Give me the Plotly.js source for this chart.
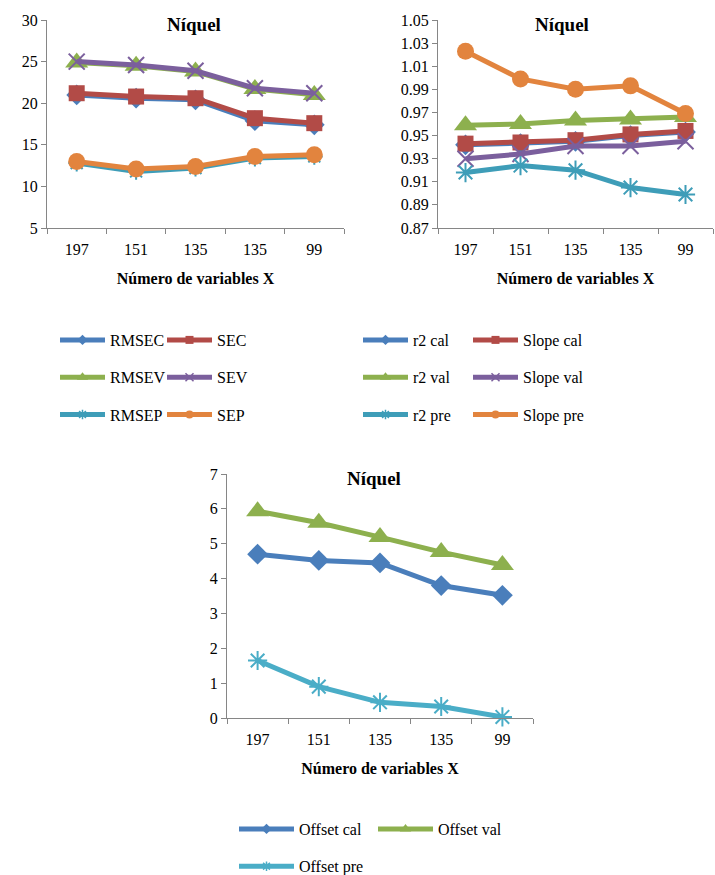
<!DOCTYPE html>
<html>
<head>
<meta charset="utf-8">
<script src="https://cdn.plot.ly/plotly-3.0.1.min.js"></script>
<style>
body{margin:0;padding:0;background:#fff}
#chart text, #chart tspan { font-family: "Liberation Serif", "Times New Roman", serif !important; }
</style>
</head>
<body>
<div id="chart" style="width:715px;height:875px"></div>
<script>
// ---- data ----
const categories = ["197", "151", "135", "135", "99"];
const chartTitle = "Níquel";
const xTitle = "Número de variables X";

// Chart 1: errors
const RMSEC = [21.0, 20.6, 20.4, 17.9, 17.4];
const SEC   = [21.2, 20.8, 20.6, 18.2, 17.6];
const RMSEV = [24.9, 24.5, 23.8, 21.7, 21.0];
const SEV   = [25.0, 24.6, 23.9, 21.8, 21.2];
const RMSEP = [12.8, 11.8, 12.2, 13.4, 13.6];
const SEP   = [13.0, 12.1, 12.4, 13.6, 13.8];

// Chart 2: r2 and slope
const r2cal    = [0.942, 0.943, 0.945, 0.950, 0.953];
const slopeCal = [0.943, 0.944, 0.946, 0.951, 0.954];
const r2val    = [0.959, 0.960, 0.963, 0.964, 0.966];
const slopeVal = [0.930, 0.934, 0.941, 0.941, 0.945];
const r2pre    = [0.918, 0.924, 0.920, 0.905, 0.899];
const slopePre = [1.023, 0.999, 0.990, 0.993, 0.969];

// Chart 3: offsets
const offsetCal = [4.70, 4.52, 4.45, 3.80, 3.52];
const offsetVal = [5.93, 5.60, 5.19, 4.76, 4.39];
const offsetPre = [1.65, 0.90, 0.45, 0.33, 0.03];

(function () {
  var COL = {
    blue: "#4A7EBB", red: "#B24B47", green: "#8DB04E",
    purple: "#7B5F9D", teal: "#3E9DB8", orange: "#E2843E", teal2: "#4AADC7"
  };
  var FAM = "Liberation Serif";
  var WID = 715, HEI = 875;
  var xIdx = categories.map(function (c, i) { return i; });
  var traces = [];

  function addSeries(name, y, color, symbol, size, xa, ya, legend, lineOnly) {
    var mk = { symbol: symbol, size: size, color: color };
    mk.line = lineOnly ? { color: color, width: 2 } : { width: 0 };
    traces.push({
      x: xIdx, y: y, xaxis: xa, yaxis: ya, name: name,
      mode: "lines+markers",
      line: { color: color, width: 5 }, marker: mk,
      showlegend: false, hoverinfo: "skip", cliponaxis: false
    });
    var lmk = { symbol: symbol, size: symbol === "triangle-up" ? 10 : 8, color: color };
    lmk.line = lineOnly ? { color: color, width: 1.5 } : { width: 0 };
    traces.push({
      x: [null], y: [null], xaxis: xa, yaxis: ya, name: name,
      mode: "lines+markers",
      line: { color: color, width: 5 }, marker: lmk,
      showlegend: true, legend: legend, legendgroup: name, hoverinfo: "skip"
    });
  }

  addSeries("RMSEC", RMSEC, COL.blue, "diamond", 16, "x", "y", "legend", false);
  addSeries("RMSEV", RMSEV, COL.green, "triangle-up", 20, "x", "y", "legend", false);
  addSeries("RMSEP", RMSEP, COL.teal, "asterisk-open", 14, "x", "y", "legend", true);
  addSeries("SEC", SEC, COL.red, "square", 16, "x", "y", "legend2", false);
  addSeries("SEV", SEV, COL.purple, "x-thin-open", 16, "x", "y", "legend2", true);
  addSeries("SEP", SEP, COL.orange, "circle", 17, "x", "y", "legend2", false);

  addSeries("r2 cal", r2cal, COL.blue, "diamond", 16, "x2", "y2", "legend3", false);
  addSeries("r2 val", r2val, COL.green, "triangle-up", 20, "x2", "y2", "legend3", false);
  addSeries("Slope cal", slopeCal, COL.red, "square", 16, "x2", "y2", "legend4", false);
  addSeries("Slope val", slopeVal, COL.purple, "x-thin-open", 16, "x2", "y2", "legend4", true);
  addSeries("r2 pre", r2pre, COL.teal, "asterisk-open", 16, "x2", "y2", "legend3", true);
  addSeries("Slope pre", slopePre, COL.orange, "circle", 17, "x2", "y2", "legend4", false);

  addSeries("Offset cal", offsetCal, COL.blue, "diamond", 16, "x3", "y3", "legend5", false);
  addSeries("Offset val", offsetVal, COL.green, "triangle-up", 20, "x3", "y3", "legend6", false);
  addSeries("Offset pre", offsetPre, COL.teal2, "asterisk-open", 16, "x3", "y3", "legend5", true);

  function fx(v) { return v / WID; }
  function fy(v) { return 1 - v / HEI; }

  function mkX(l, r, anchor) {
    return {
      domain: [fx(l), fx(r)], anchor: anchor,
      range: [-0.5, 4.5], tickvals: xIdx, ticktext: categories,
      ticks: "", showgrid: false, zeroline: false,
      showline: true, linecolor: "#868686", linewidth: 1,
      ticklabelstandoff: 7,
      minor: { ticks: "outside", tick0: 0.5, dtick: 1, ticklen: 5, tickcolor: "#868686", showgrid: false },
      tickfont: { family: FAM, size: 16, color: "#000" },
      title: { text: "<b>" + xTitle + "</b>", font: { family: FAM, size: 16, color: "#000" }, standoff: 15 }
    };
  }
  function mkY(t, b, anchor, range, dtick, fmt) {
    return {
      domain: [fy(b), fy(t)], anchor: anchor,
      range: range, dtick: dtick, tick0: range[0], tickformat: fmt,
      ticks: "outside", ticklen: 5, tickcolor: "#868686",
      showgrid: false, zeroline: false,
      showline: true, linecolor: "#868686", linewidth: 1,
      tickfont: { family: FAM, size: 16, color: "#000" }
    };
  }
  function mkLeg(x, y, iw) {
    return {
      x: fx(x), y: fy(y), xanchor: "left", yanchor: "top",
      traceorder: "grouped", tracegroupgap: 13.5, itemwidth: iw || 45,
      font: { family: FAM, size: 16, color: "#000" },
      bgcolor: "rgba(0,0,0,0)"
    };
  }
  function mkTitle(xc, y) {
    return {
      text: "<b>" + chartTitle + "</b>", x: fx(xc), y: fy(y), xref: "paper", yref: "paper",
      xanchor: "center", yanchor: "middle", showarrow: false,
      font: { family: FAM, size: 19, color: "#000" }
    };
  }

  var layout = {
    width: WID, height: HEI,
    margin: { l: 0, r: 0, t: 0, b: 0, autoexpand: false },
    font: { family: FAM, size: 16, color: "#000" },
    xaxis: mkX(47, 344, "y"),
    yaxis: mkY(20, 228, "x", [5, 30], 5, ""),
    xaxis2: mkX(438, 713, "y2"),
    yaxis2: mkY(20, 228, "x2", [0.87, 1.05], 0.02, ".2f"),
    xaxis3: mkX(227, 533, "y3"),
    yaxis3: mkY(474, 718, "x3", [0, 7], 1, ""),
    legend: mkLeg(55, 323),
    legend2: mkLeg(162, 323),
    legend3: mkLeg(358, 323),
    legend4: mkLeg(468, 323),
    legend5: mkLeg(234, 812, 55),
    legend6: mkLeg(373, 812, 55),
    annotations: [mkTitle(194, 24), mkTitle(562, 24), mkTitle(374, 478)],
    showlegend: true
  };

  Plotly.newPlot("chart", traces, layout, { displayModeBar: false });
})();
</script>
</body>
</html>
